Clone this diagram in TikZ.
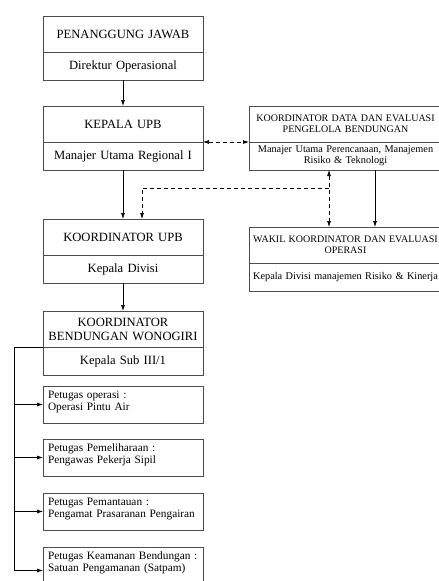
\documentclass[tikz,border=0pt]{standalone}
\usepackage{fontspec}
\setmainfont{Liberation Serif}
\usetikzlibrary{arrows.meta,positioning}

\begin{document}
\begin{tikzpicture}[x=1pt,y=-1pt,
  >={Latex[length=6pt,width=4pt]},
  titlebox/.style={draw=black!70,line width=0.8pt,outer sep=0pt,minimum width=160pt,minimum height=36pt,text width=156pt,inner xsep=2pt,align=center,font=\fontsize{12.6}{14}\selectfont},
  namebox/.style={titlebox,minimum height=28pt},
  rtitlebox/.style={titlebox,minimum width=193pt,text width=189pt,font=\fontsize{10}{11}\selectfont},
  rnamebox/.style={rtitlebox,minimum height=28pt,font=\fontsize{10.3}{11}\selectfont},
  taskbox/.style={draw=black!70,line width=0.8pt,outer sep=0pt,anchor=north west,text width=150pt,inner xsep=5pt,inner ysep=2pt,text height=10pt,text depth=23pt,align=left,font=\fontsize{11.3}{12}\selectfont},
  link/.style={line width=0.7pt},
  coordlink/.style={link,dash pattern=on 4pt off 3pt}]
\useasboundingbox (0,0) rectangle (439,581);

\node[titlebox,anchor=north] (pj) at (123,16) {PENANGGUNG JAWAB};
\node[namebox,below=0pt of pj] (pjn) {Direktur Operasional};
\node[titlebox,anchor=north] (kp) at (123,106) {KEPALA UPB};
\node[namebox,below=0pt of kp] (kpn) {Manajer Utama Regional I};
\node[titlebox,anchor=north] (ku) at (123,219) {KOORDINATOR UPB};
\node[namebox,below=0pt of ku] (kun) {Kepala Divisi};
\node[titlebox,anchor=north] (kb) at (123,311) {KOORDINATOR\\BENDUNGAN WONOGIRI};
\node[namebox,below=0pt of kb] (kbn) {Kepala Sub III/1};

\node[rtitlebox,anchor=north] (kd) at (345.5,106) {KOORDINATOR DATA DAN EVALUASI\\PENGELOLA BENDUNGAN};
\node[rnamebox,below=0pt of kd] (kdn) {Manajer Utama Perencanaan, Manajemen\\Risiko \& Teknologi};
\node[rtitlebox,anchor=north] (wk) at (345.5,227) {WAKIL KOORDINATOR DAN EVALUASI\\OPERASI};
\node[rnamebox,below=0pt of wk] (wkn) {Kepala Divisi manajemen Risiko \& Kinerja};

\node[taskbox] (p1) at (43,386) {Petugas operasi :\\Operasi Pintu Air};
\node[taskbox] (p2) at (43,439) {Petugas Pemeliharaan :\\Pengawas Pekerja Sipil};
\node[taskbox] (p3) at (43,493) {Petugas Pemantauan :\\Pengamat Prasaranan Pengairan};
\node[taskbox,text depth=33pt] (p4) at (43,547) {Petugas Keamanan Bendungan :\\Satuan Pengamanan (Satpam)};

\draw[link,->] (pjn.south) -- (kp.north);
\draw[link,->] (kpn.south) -- (ku.north);
\draw[link,->] (kun.south) -- (kb.north);

\draw[coordlink,<->] (kp.south east) -- (kd.south west);
\draw[coordlink,<->] ([xshift=-16.5pt]kdn.south) -- ([xshift=-16.5pt]wk.north);
\coordinate (jn) at (329,188);
\draw[coordlink,->] (jn) -| ([xshift=19pt]ku.north);
\draw[link,->] ([xshift=29.5pt]kdn.south) -- ([xshift=29.5pt]wk.north);

\coordinate (trunk) at (14,347);
\draw[link,->] (kb.south west) -- (trunk) |- (p4.west);
\foreach \p in {p1,p2,p3}
  \draw[link,->] (\p.west -| trunk) -- (\p.west);
\end{tikzpicture}
\end{document}
